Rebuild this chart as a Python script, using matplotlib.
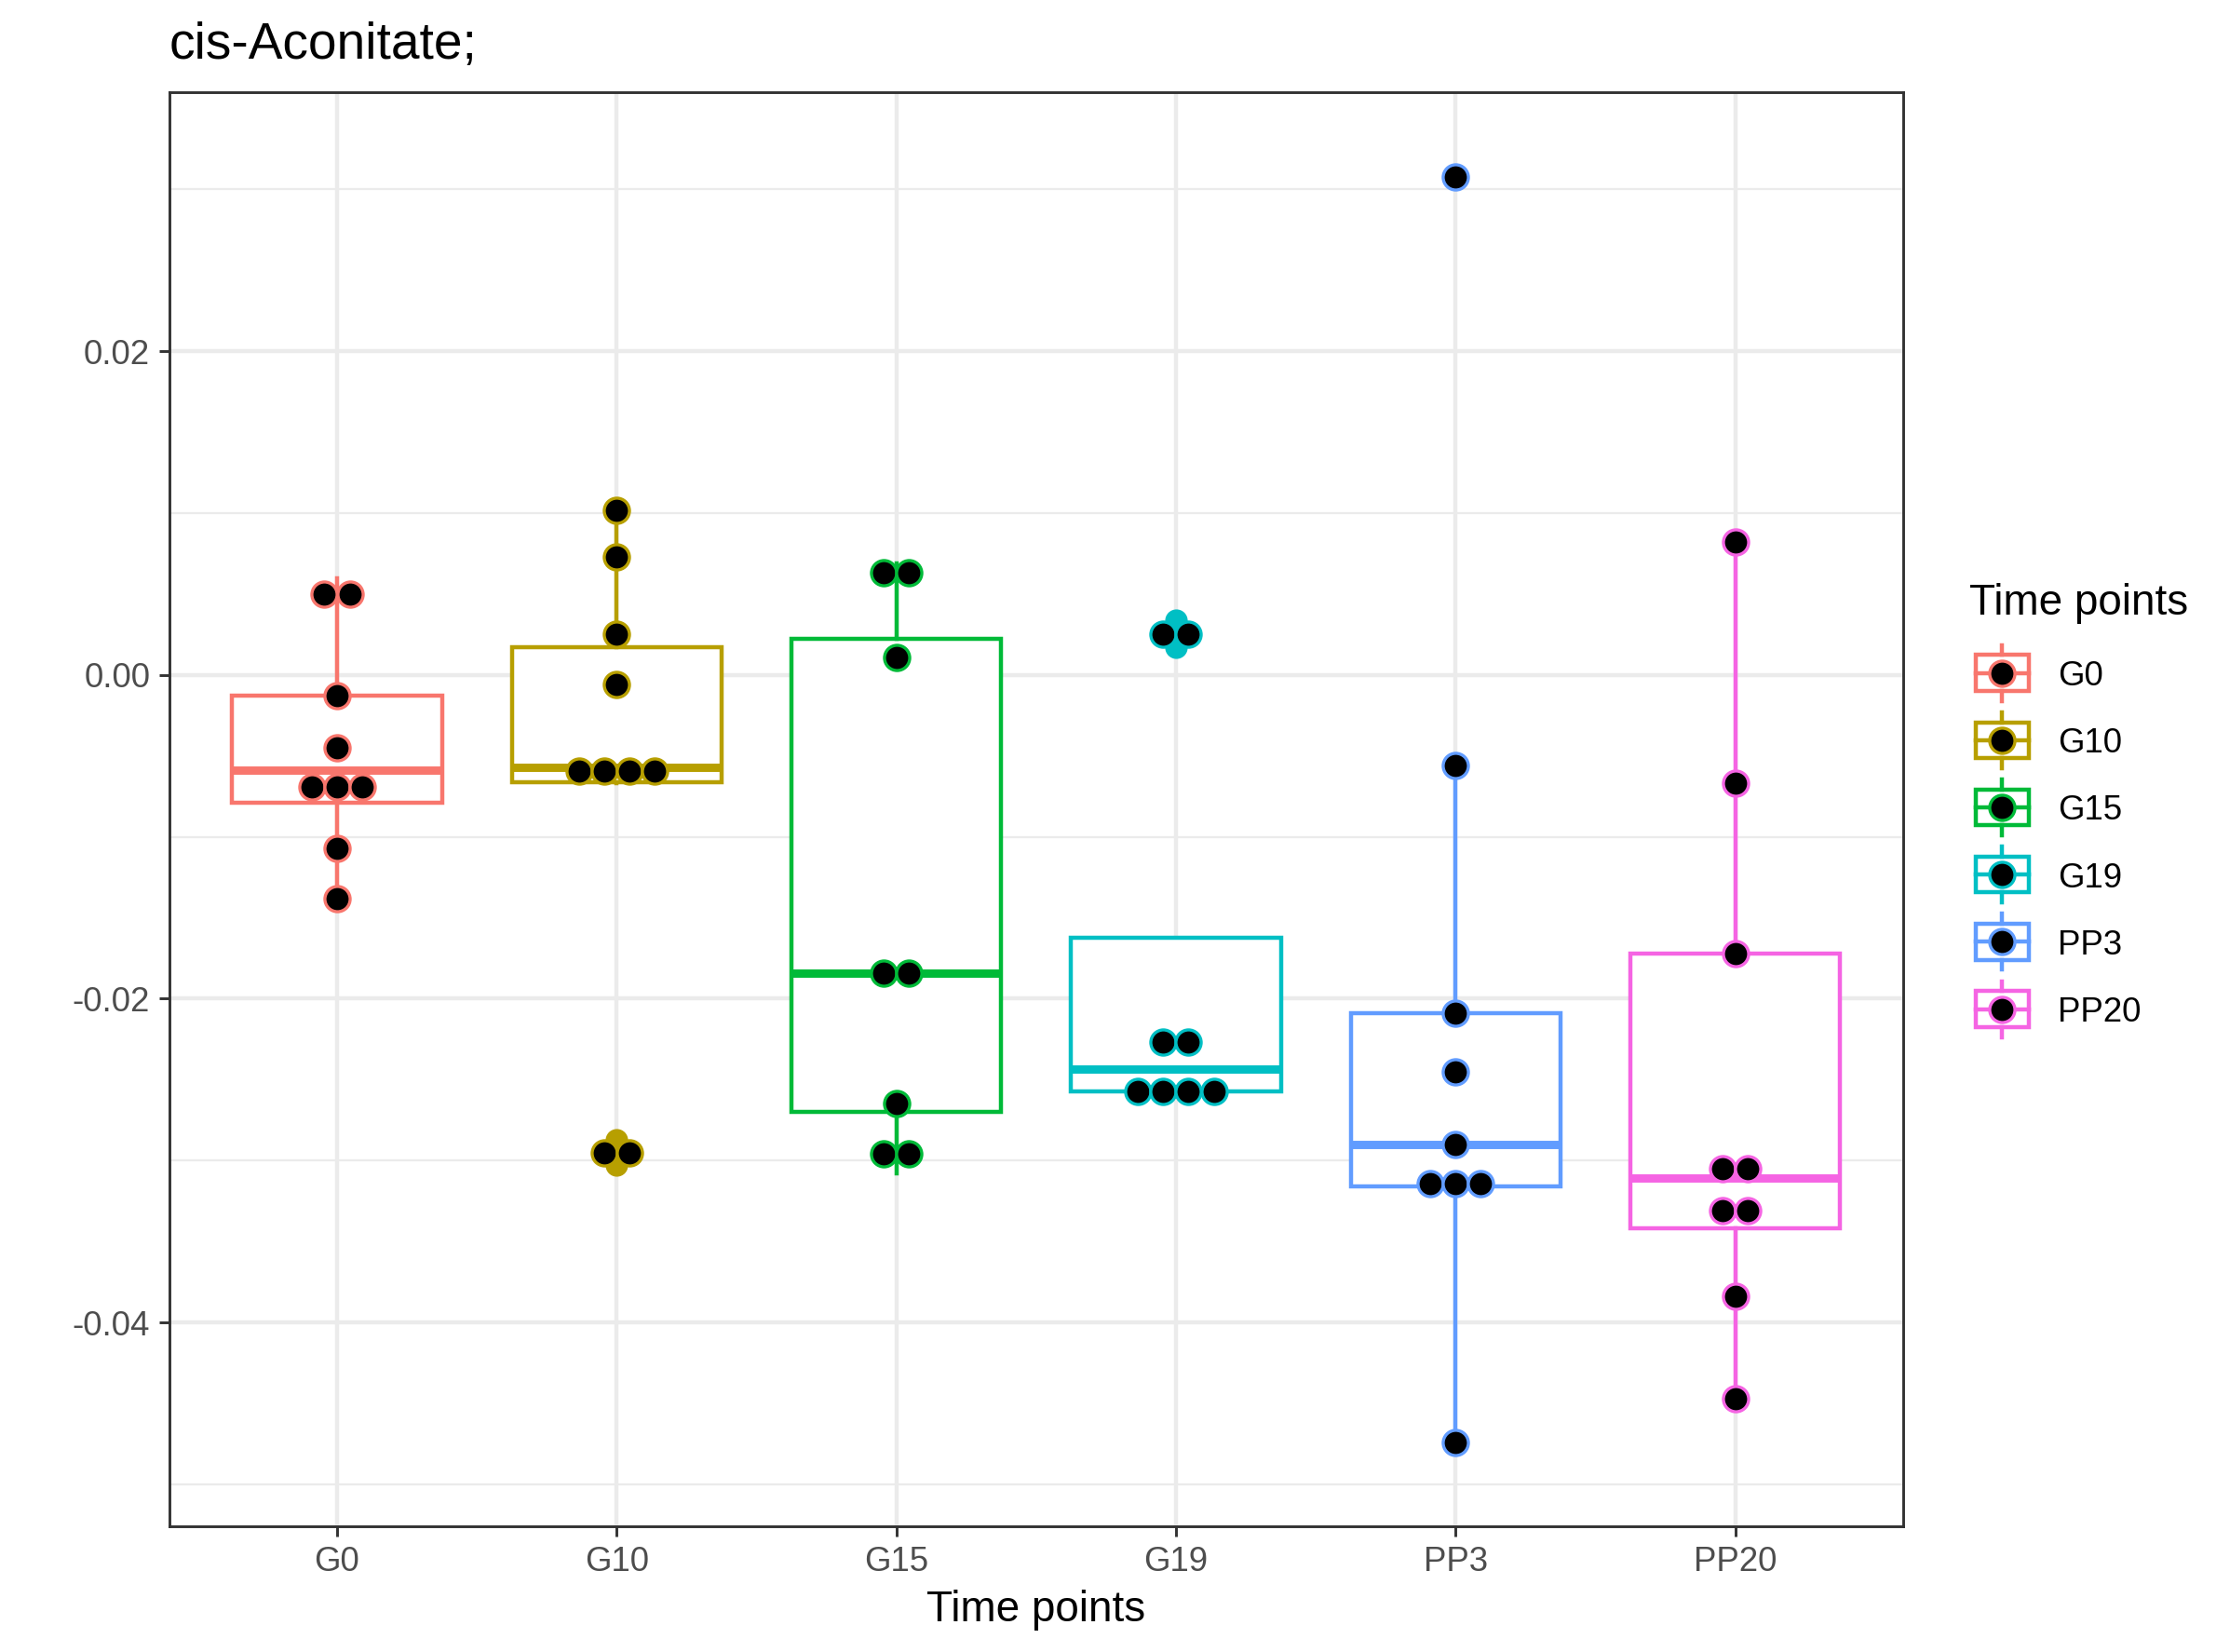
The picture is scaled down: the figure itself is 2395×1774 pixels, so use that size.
import numpy as np
import matplotlib
matplotlib.use("Agg")
import matplotlib.pyplot as plt
from matplotlib.patches import Rectangle
from matplotlib.lines import Line2D

plt.rcParams["font.family"] = ["Liberation Sans", "DejaVu Sans"]
plt.rcParams["axes.unicode_minus"] = False

# data (raw values per time point)
groups = ["G0", "G10", "G15", "G19", "PP3", "PP20"]
colors = ["#F8766D", "#B79F00", "#00BA38", "#00BFC4", "#619CFF", "#F564E3"]
g0 = [-0.0138, -0.0107, -0.0079, -0.0070, -0.0059, -0.0045, -0.0013, 0.0040, 0.0060]
g10 = [-0.0303, -0.0287, -0.0067, -0.0064, -0.0062, -0.0052, -0.0006, 0.0025, 0.0073, 0.0102]
g15 = [-0.0308, -0.0284, -0.0265, -0.0192, -0.0176, 0.0011, 0.0057, 0.0069]
g19 = [-0.0260, -0.0259, -0.0257, -0.0255, -0.0232, -0.0222, 0.0017, 0.0034]
pp3 = [-0.0474, -0.0325, -0.0316, -0.0303, -0.0290, -0.0245, -0.0209, -0.0056, 0.0308]
pp20 = [-0.0447, -0.0384, -0.0342, -0.0320, -0.0311, -0.0299, -0.0172, -0.0067, 0.0082]
values = [g0, g10, g15, g19, pp3, pp20]

yticks = [-0.04, -0.02, 0.00, 0.02]
ytick_labels = ["-0.04", "-0.02", "0.00", "0.02"]
yminor = [-0.05, -0.03, -0.01, 0.01, 0.03]

W, H, DPI = 2395, 1774, 300
LW = 1.07          # ggplot linewidth 0.5
DOT = 6.5          # dot diameter in points
GRID = "#EBEBEB"
DARK = "#333333"


def dot_bins(vals, bw):
    # same idea as ggplot's dotdensity binning
    vals = sorted(vals)
    bins = []
    end = -np.inf
    for v in vals:
        if v >= end:
            bins.append([v])
            end = v + bw
        else:
            bins[-1].append(v)
    return [((b[0] + b[-1]) / 2, len(b)) for b in bins]


fig = plt.figure(figsize=(W / DPI, H / DPI), dpi=DPI)
left, right, top, bottom = 181.8, 2043.7, 99.3, 1638.9
ax = fig.add_axes([left / W, 1 - bottom / H, (right - left) / W, (bottom - top) / H])

xlim = (0.4, 6.6)
ax.set_xlim(*xlim)
ax.set_ylim(-0.05259, 0.03599)

ax.set_yticks(yticks)
ax.set_yticklabels(ytick_labels)
ax.set_yticks(yminor, minor=True)
ax.set_xticks(range(1, len(groups) + 1))
ax.set_xticklabels(groups)
ax.grid(True, which="major", color=GRID, linewidth=LW, zorder=0)
ax.grid(True, which="minor", axis="y", color=GRID, linewidth=LW / 2, zorder=0)
ax.set_axisbelow(True)

ax.tick_params(which="major", length=2.75, width=0.7, color=DARK,
               labelcolor="#4D4D4D", labelsize=8.8, pad=2.2)
ax.tick_params(which="minor", length=0)
for sp in ax.spines.values():
    sp.set_color(DARK)
    sp.set_linewidth(0.7)

all_vals = np.concatenate([np.array(v) for v in values])
bw = (all_vals.max() - all_vals.min()) / 30
spacing = (DOT / 72 * DPI) / (right - left) * (xlim[1] - xlim[0])

for i, (vals, c) in enumerate(zip(values, colors)):
    pos = i + 1
    ax.boxplot(vals, positions=[pos], widths=0.75, patch_artist=True,
               showcaps=False, manage_ticks=False,
               boxprops=dict(facecolor="white", edgecolor=c, linewidth=LW),
               whiskerprops=dict(color=c, linewidth=LW),
               medianprops=dict(color=c, linewidth=2 * LW, solid_capstyle="butt"),
               flierprops=dict(marker="o", markerfacecolor=c, markeredgecolor=c,
                               markersize=4.8),
               zorder=2)
    for center, n in dot_bins(vals, bw):
        xs = pos + (np.arange(n) - (n - 1) / 2) * spacing
        ax.plot(xs, [center] * n, linestyle="none", marker="o", markersize=DOT,
                markerfacecolor="black", markeredgecolor=c, markeredgewidth=0.8,
                zorder=3)

fig.text(left / W, 1 - 63 / H, "cis-Aconitate;", fontsize=13.2, va="baseline", ha="left")
fig.text((left + right) / 2 / W, 1 - 1741 / H, "Time points", fontsize=11,
         va="baseline", ha="center")

# legend drawn in figure pixel coordinates
lg = fig.add_axes([0, 0, 1, 1])
lg.set_xlim(0, W)
lg.set_ylim(H, 0)
lg.axis("off")
lg.text(2115, 660, "Time points", fontsize=11, va="baseline", ha="left")
kx, ky0, pitch = 2150.3, 722.5, 72.2
for i, (g, c) in enumerate(zip(groups, colors)):
    ky = ky0 + i * pitch
    lg.add_patch(Rectangle((kx - 28.5, ky - 19.2), 57, 38.4, facecolor="white",
                           edgecolor=c, linewidth=LW, zorder=2))
    lg.add_line(Line2D([kx - 28.5, kx + 28.5], [ky, ky], color=c, linewidth=LW, zorder=3))
    lg.add_line(Line2D([kx, kx], [ky - 30, ky - 19.2], color=c, linewidth=LW, zorder=3))
    lg.add_line(Line2D([kx, kx], [ky + 19.2, ky + 30], color=c, linewidth=LW, zorder=3))
    lg.plot([kx], [ky], linestyle="none", marker="o", markersize=DOT,
            markerfacecolor="black", markeredgecolor=c, markeredgewidth=0.8, zorder=4)
    lg.text(2210, ky, g, fontsize=8.8, va="center_baseline", ha="left")

fig.savefig("out.png", dpi=DPI)
